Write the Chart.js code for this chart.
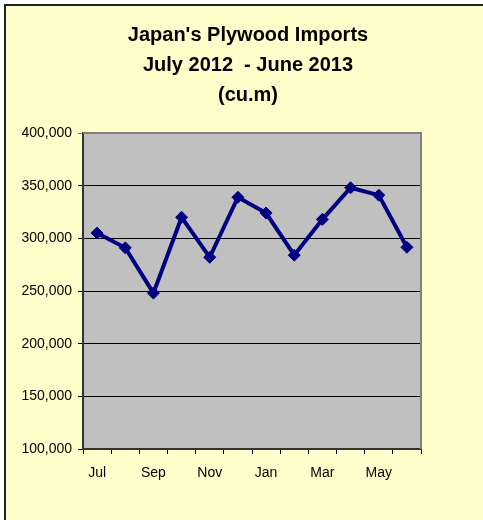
<!DOCTYPE html>
<html>
<head>
<meta charset="utf-8">
<script src="https://cdn.jsdelivr.net/npm/chart.js@4"></script>
<style>
  html, body { margin: 0; padding: 0; background: #fff; overflow: hidden; width: 483px; height: 520px; }
  #frame {
    position: absolute; left: 4px; top: 4px; width: 600px; height: 600px;
    box-sizing: border-box; background: #ffffcc;
    border-left: 2px solid #222; border-top: 2px solid #222;
  }
  #chart { position: absolute; left: 0; top: 0; }
</style>
</head>
<body>
<div id="frame"></div>
<canvas id="chart" width="483" height="520"></canvas>
<script>
// months Jul 2012 - Jun 2013
const months = ['Jul', 'Aug', 'Sep', 'Oct', 'Nov', 'Dec', 'Jan', 'Feb', 'Mar', 'Apr', 'May', 'Jun'];
const imports = [305000, 291000, 248000, 320000, 282000, 339000, 324000, 284000, 318000, 348000, 341000, 291500];
const yTicks = [100000, 150000, 200000, 250000, 300000, 350000, 400000];
const titleLines = ["Japan's Plywood Imports", 'July 2012  - June 2013', '(cu.m)'];

const font = 'Liberation Sans, Arial, sans-serif';

// grey plot area + grey frame top/right, like the excel original
const plotBox = {
  id: 'plotBox',
  beforeDraw(chart) {
    const { ctx, chartArea: a } = chart;
    ctx.save();
    ctx.fillStyle = '#c0c0c0';
    ctx.fillRect(a.left, a.top, a.right - a.left, a.bottom - a.top);
    ctx.restore();
  },
  beforeDatasetsDraw(chart) {
    const { ctx, chartArea: a } = chart;
    ctx.save();
    ctx.strokeStyle = '#808080';
    ctx.lineWidth = 2;
    ctx.beginPath();
    ctx.moveTo(a.left, a.top);
    ctx.lineTo(a.right, a.top);
    ctx.lineTo(a.right, a.bottom);
    ctx.stroke();
    ctx.restore();
  }
};

new Chart(document.getElementById('chart').getContext('2d'), {
  type: 'line',
  data: {
    labels: months,
    datasets: [{
      data: imports,
      borderColor: '#000080',
      backgroundColor: '#000080',
      borderWidth: 4,
      tension: 0,
      pointStyle: 'rectRot',
      pointRadius: 6,
      pointBorderWidth: 1,
      pointBorderColor: '#000080',
      pointBackgroundColor: '#000080'
    }]
  },
  options: {
    responsive: false,
    animation: false,
    layout: { padding: { left: 13, right: 0, top: 0, bottom: 31 } },
    plugins: {
      legend: { display: false },
      tooltip: { enabled: false },
      title: {
        display: true,
        text: titleLines,
        color: '#000',
        font: { family: font, size: 20, weight: 'bold', lineHeight: 1.5 },
        padding: { top: 20, bottom: 23 }
      }
    },
    scales: {
      x: {
        offset: true,
        grid: { offset: true, drawOnChartArea: false, drawTicks: true, tickLength: 5, color: '#000' },
        border: { display: true, color: '#333', width: 2 },
        ticks: {
          autoSkip: false, maxRotation: 0, padding: 11, color: '#000',
          font: { family: font, size: 14 },
          callback: (v, i) => (i % 2 === 0 ? months[i] : '')
        },
        afterFit: s => { s.height = 40; }
      },
      y: {
        min: yTicks[0],
        max: yTicks[yTicks.length - 1],
        afterBuildTicks: s => { s.ticks = yTicks.map(v => ({ value: v })); },
        grid: {
          tickLength: 5,
          color: c => (c.tick && c.tick.value === yTicks[yTicks.length - 1] ? '#808080' : '#000'),
          lineWidth: 1
        },
        border: { display: true, color: '#333', width: 2 },
        ticks: {
          padding: 6, color: '#000',
          font: { family: font, size: 14 },
          callback: v => v.toLocaleString('en-US')
        },
        afterFit: s => { s.width = 70; }
      },
      // empty right-hand axis, only to keep the blank margin right of the plot
      yRight: {
        type: 'linear',
        position: 'right',
        grid: { display: false },
        border: { display: false },
        ticks: { display: false },
        afterFit: s => { s.width = 62; }
      }
    }
  },
  plugins: [plotBox]
});
</script>
</body>
</html>
